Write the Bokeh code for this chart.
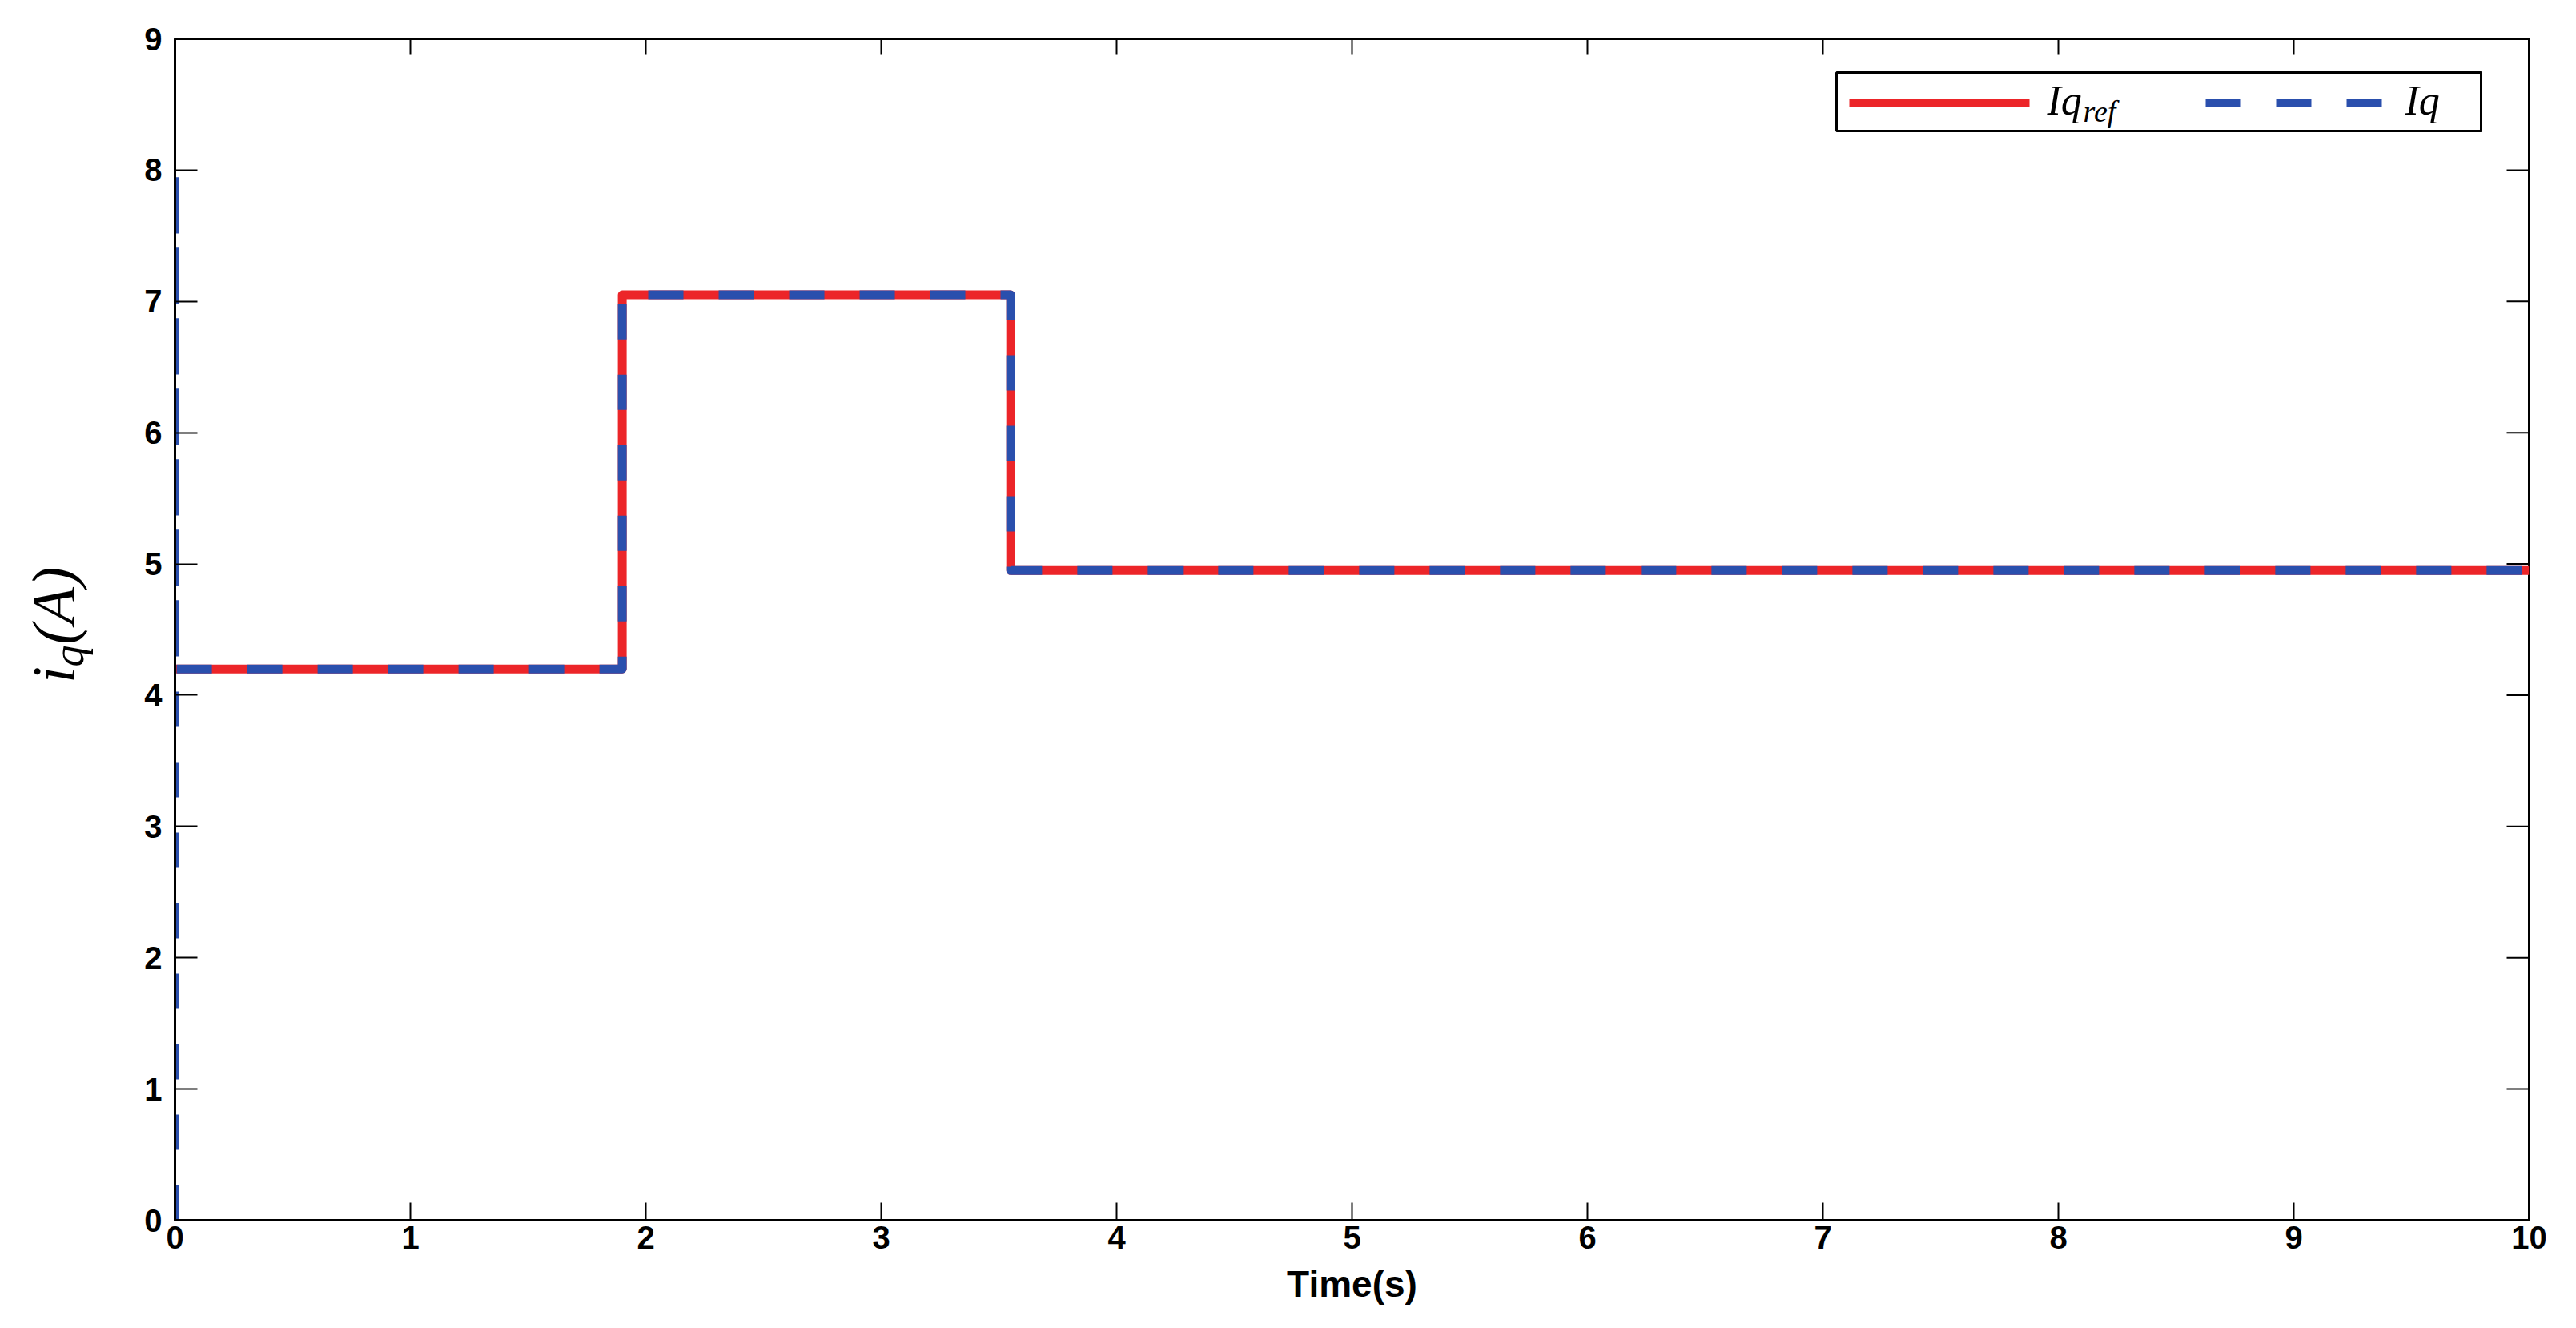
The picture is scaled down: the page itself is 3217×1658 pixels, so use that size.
import math
from bokeh.plotting import figure
from bokeh.layouts import row
from bokeh.models import Range1d, FixedTicker
from bokeh.core.properties import value
from bokeh.embed import file_html
from bokeh.resources import INLINE

# ---- data ----
t_ref = [0.0, 1.9, 1.9, 3.55, 3.55, 10.0]
iq_ref = [4.2, 4.2, 7.05, 7.05, 4.95, 4.95]
t_meas = [0.0, 0.0, 0.0, 1.9, 1.9, 3.55, 3.55, 10.0]
iq_meas = [0.0, 8.0, 4.2, 4.2, 7.05, 7.05, 4.95, 4.95]
x_ticks = [0, 1, 2, 3, 4, 5, 6, 7, 8, 9, 10]
y_ticks = [0, 1, 2, 3, 4, 5, 6, 7, 8, 9]
x_min, x_max = 0, 10
y_min, y_max = 0, 9
series_names = ["Iq", "Iq"]
series_sub = ["ref", ""]

RED = "#EC2529"
BLUE = "#2A4FAD"
DASH = "44 44"
SERIF = "Liberation Serif"
SANS = "Liberation Sans"

# ---- layout (page pixels) ----
ORIGIN = 0                 # page offset of the layout
LABEL_W = 150              # narrow panel holding the rotated y label
FRAME_W, FRAME_H = 2940, 1475
B_LEFT, B_TOP, B_RIGHT, B_BOTTOM = 68, 48, 50, 127
TOTAL_H = B_TOP + FRAME_H + B_BOTTOM
FL, FB = ORIGIN + LABEL_W + B_LEFT, ORIGIN + B_TOP + FRAME_H   # frame left / bottom
px_per_x = FRAME_W / (x_max - x_min)
px_per_y = FRAME_H / (y_max - y_min)

def dx(X):      # page pixel -> data x
    return x_min + (X - FL) / px_per_x
def dy(Y):      # page pixel -> data y
    return y_min + (FB - Y) / px_per_y

# ---- y-label panel ----
lab = figure(width=LABEL_W, height=TOTAL_H,
             x_range=Range1d(0, LABEL_W), y_range=Range1d(0, TOTAL_H),
             output_backend="svg", toolbar_location=None,
             min_border=0, outline_line_color=None,
             x_axis_location=None, y_axis_location=None)
lab.grid.visible = False

def lx(X):
    return X - ORIGIN
def ly(Y):
    return ORIGIN + TOTAL_H - Y

lab.text(x=[lx(66)], y=[ly(900)], text=["i"], angle=math.pi / 2,
         text_font=value(SERIF), text_font_style="italic", text_font_size="76px",
         text_baseline="alphabetic", text_align="left", text_color="black")
lab.text(x=[lx(85)], y=[ly(877)], text=["q"], angle=math.pi / 2,
         text_font=value(SERIF), text_font_style="italic", text_font_size="54px",
         text_baseline="alphabetic", text_align="left", text_color="black")
lab.text(x=[lx(66)], y=[ly(846)], text=["(A)"], angle=math.pi / 2,
         text_font=value(SERIF), text_font_style="italic", text_font_size="76px",
         text_baseline="alphabetic", text_align="left", text_color="black")

# ---- main plot ----
p = figure(frame_width=FRAME_W, frame_height=FRAME_H,
           x_range=Range1d(x_min, x_max), y_range=Range1d(y_min, y_max),
           output_backend="svg", toolbar_location=None,
           min_border_left=B_LEFT, min_border_top=B_TOP,
           min_border_right=B_RIGHT, min_border_bottom=B_BOTTOM,
           background_fill_color="white", border_fill_color="white")
p.grid.visible = False
p.outline_line_color = "black"
p.outline_line_width = 3

p.line(t_ref, iq_ref, line_color=RED, line_width=11, line_join="round")
p.line(t_meas, iq_meas, line_color=BLUE, line_width=11, line_dash=DASH, line_join="round")

for ax in p.xaxis:
    ax.ticker = FixedTicker(ticks=x_ticks)
    ax.major_tick_in = 22
    ax.major_tick_out = 0
    ax.minor_tick_line_color = None
    ax.major_tick_line_width = 2
    ax.axis_line_width = 3
    ax.major_label_text_font = SANS
    ax.major_label_text_font_style = "bold"
    ax.major_label_text_font_size = "40px"
    ax.major_label_text_color = "black"
    ax.major_label_standoff = 7
    ax.axis_label = "Time(s)"
    ax.axis_label_text_font = SANS
    ax.axis_label_text_font_style = "bold"
    ax.axis_label_text_font_size = "46px"
    ax.axis_label_text_color = "black"
    ax.axis_label_standoff = 15

for ax in p.yaxis:
    ax.ticker = FixedTicker(ticks=y_ticks)
    ax.major_tick_in = 28
    ax.major_tick_out = 0
    ax.minor_tick_line_color = None
    ax.major_tick_line_width = 2
    ax.axis_line_width = 3
    ax.major_label_text_font = SANS
    ax.major_label_text_font_style = "bold"
    ax.major_label_text_font_size = "40px"
    ax.major_label_text_color = "black"
    ax.major_label_standoff = 16

# inner ticks on the top and right edges (box style), derived from the tick lists
top_len = 20 / px_per_y
right_len = 28 / px_per_x
p.segment(x0=x_ticks, y0=[y_max] * len(x_ticks), x1=x_ticks,
          y1=[y_max - top_len] * len(x_ticks), line_color="black", line_width=2)
p.segment(x0=[x_max] * len(y_ticks), y0=y_ticks, x1=[x_max - right_len] * len(y_ticks),
          y1=y_ticks, line_color="black", line_width=2)

# ---- legend (drawn by hand so that the subscript can be set) ----
p.quad(left=[dx(2293)], right=[dx(3098)], top=[dy(90)], bottom=[dy(163)],
       fill_color="white", line_color="black", line_width=3)
ly_mid = dy(128)
p.line([dx(2309), dx(2534)], [ly_mid, ly_mid], line_color=RED, line_width=11)
p.line([dx(2754), dx(2979)], [ly_mid, ly_mid], line_color=BLUE, line_width=11,
       line_dash=DASH)
name_x = [dx(2556), dx(3003)]
p.text(x=name_x, y=[dy(125)] * 2, text=series_names,
       text_font=value(SERIF), text_font_style="italic", text_font_size="52px",
       text_baseline="alphabetic", text_align="left", text_color="black")
p.text(x=[dx(2601)], y=[dy(138)], text=[series_sub[0]],
       text_font=value(SERIF), text_font_style="italic", text_font_size="38px",
       text_baseline="alphabetic", text_align="left", text_color="black")

layout = row(lab, p, spacing=0)
open("out.html", "w").write(file_html(layout, INLINE))
